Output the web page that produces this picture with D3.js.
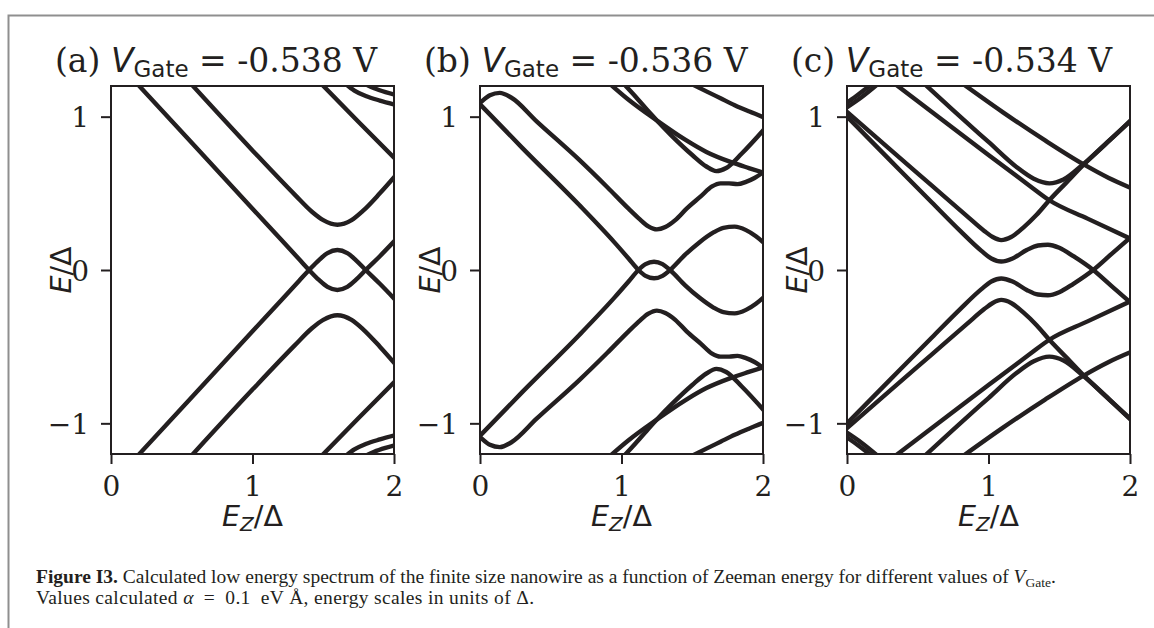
<!DOCTYPE html>
<html><head><meta charset="utf-8">
<script src="https://cdn.jsdelivr.net/npm/d3@7"></script>
<style>body{margin:0;background:#fff}svg{display:block}</style>
</head><body>
<svg id="fig" width="1154" height="628"></svg>
<script>
// ---------------- data (Ez/Δ, E/Δ) ----------------
const panelIds = ["(a)", "(b)", "(c)"];
const gateVoltages = ["-0.538", "-0.536", "-0.534"];
const xTickValues = [0, 1, 2];
const xTickLabels = ["0", "1", "2"];
const yTickValues = [-1, 0, 1];
const yTickLabels = ["\u22121", "0", "1"];
const xDomain = [0, 2];
const yDomain = [-1.2, 1.2];

// panel (a)  V_Gate = -0.538 V
const a1 = [[0.18,1.22],[0.6,0.8],[1.0,0.4],[1.2,0.2],[1.33,0.07],[1.4,0.0],[1.47,-0.065],[1.53,-0.11],[1.6,-0.13],[1.67,-0.11],[1.73,-0.065],[1.8,0.0],[1.9,0.09],[2.02,0.205]];
const a2 = [[0.18,-1.22],[0.6,-0.8],[1.0,-0.4],[1.2,-0.2],[1.33,-0.07],[1.4,0.0],[1.47,0.065],[1.53,0.11],[1.6,0.13],[1.67,0.11],[1.73,0.065],[1.8,0.0],[1.9,-0.09],[2.02,-0.205]];
const a3 = [[0.56,1.22],[1.0,0.78],[1.3,0.49],[1.42,0.38],[1.5,0.325],[1.6,0.295],[1.7,0.325],[1.78,0.385],[1.9,0.5],[2.02,0.625]];
const a4 = [[0.56,-1.22],[1.0,-0.78],[1.3,-0.49],[1.42,-0.38],[1.5,-0.325],[1.6,-0.295],[1.7,-0.325],[1.78,-0.385],[1.9,-0.5],[2.02,-0.625]];
const a5 = [[1.48,1.22],[1.75,0.965],[2.02,0.715]];
const a6 = [[1.48,-1.22],[1.75,-0.965],[2.02,-0.715]];
const a7 = [[1.65,1.22],[1.72,1.17],[1.8,1.135],[1.9,1.105],[2.02,1.075]];
const a8 = [[1.78,1.22],[1.86,1.185],[1.94,1.16],[2.02,1.14]];
const a9 = [[1.65,-1.22],[1.72,-1.17],[1.8,-1.135],[1.9,-1.105],[2.02,-1.075]];
const a10 = [[1.78,-1.22],[1.86,-1.185],[1.94,-1.16],[2.02,-1.14]];

// panel (b)  V_Gate = -0.536 V
const b1 = [[-0.02,1.075],[0.0,1.09],[0.07,1.14],[0.14,1.155],[0.22,1.125],[0.4,0.97],[0.7,0.72],[0.9,0.54],[1.05,0.4],[1.13,0.33],[1.19,0.285],[1.25,0.265],[1.31,0.28],[1.38,0.325],[1.46,0.4],[1.56,0.48],[1.64,0.545],[1.7,0.565],[1.76,0.565],[1.82,0.56],[1.88,0.575],[1.94,0.6],[2.02,0.65]];
const b2 = [[-0.02,1.1],[0.3,0.795],[0.7,0.425],[0.95,0.18],[1.05,0.075],[1.12,0.0],[1.17,-0.038],[1.23,-0.054],[1.29,-0.038],[1.343,0.0],[1.45,0.1],[1.55,0.18],[1.65,0.245],[1.72,0.275],[1.8,0.283],[1.88,0.26],[1.95,0.22],[2.02,0.165]];
const b3 = [[0.91,1.22],[1.05,1.11],[1.25,0.975],[1.45,0.85],[1.6,0.77],[1.77,0.705],[1.9,0.665],[2.02,0.63]];
const b4 = [[1.01,1.22],[1.1,1.13],[1.2,1.025],[1.25,0.975],[1.35,0.88],[1.5,0.75],[1.6,0.675],[1.67,0.645],[1.74,0.665],[1.85,0.76],[2.02,0.93]];
const b5 = [[1.48,1.22],[1.6,1.165],[1.7,1.12],[1.8,1.075],[1.9,1.035],[2.02,0.99]];
const b6 = [[-0.02,-1.075],[0.0,-1.09],[0.07,-1.14],[0.14,-1.155],[0.22,-1.125],[0.4,-0.97],[0.7,-0.72],[0.9,-0.54],[1.05,-0.4],[1.13,-0.33],[1.19,-0.285],[1.25,-0.265],[1.31,-0.28],[1.38,-0.325],[1.46,-0.4],[1.56,-0.48],[1.64,-0.545],[1.7,-0.565],[1.76,-0.565],[1.82,-0.56],[1.88,-0.575],[1.94,-0.6],[2.02,-0.65]];
const b7 = [[-0.02,-1.1],[0.3,-0.795],[0.7,-0.425],[0.95,-0.18],[1.05,-0.075],[1.12,0.0],[1.17,0.038],[1.23,0.054],[1.29,0.038],[1.343,0.0],[1.45,-0.1],[1.55,-0.18],[1.65,-0.245],[1.72,-0.275],[1.8,-0.283],[1.88,-0.26],[1.95,-0.22],[2.02,-0.165]];
const b8 = [[0.91,-1.22],[1.05,-1.11],[1.25,-0.975],[1.45,-0.85],[1.6,-0.77],[1.77,-0.705],[1.9,-0.665],[2.02,-0.63]];
const b9 = [[1.01,-1.22],[1.1,-1.13],[1.2,-1.025],[1.25,-0.975],[1.35,-0.88],[1.5,-0.75],[1.6,-0.675],[1.67,-0.645],[1.74,-0.665],[1.85,-0.76],[2.02,-0.93]];
const b10 = [[1.48,-1.22],[1.6,-1.165],[1.7,-1.12],[1.8,-1.075],[1.9,-1.035],[2.02,-0.99]];

// panel (c)  V_Gate = -0.534 V
const c1 = [[-0.01,1.04],[0.3,0.79],[0.6,0.55],[0.85,0.35],[0.97,0.255],[1.03,0.215],[1.09,0.195],[1.16,0.215],[1.25,0.28],[1.34,0.36],[1.43,0.455],[1.55,0.57],[1.67,0.685],[1.8,0.8],[1.9,0.885],[2.02,0.985]];
const c2 = [[-0.01,1.01],[0.3,0.72],[0.6,0.44],[0.8,0.255],[0.95,0.125],[1.02,0.075],[1.09,0.055],[1.17,0.075],[1.27,0.13],[1.35,0.16],[1.42,0.165],[1.5,0.145],[1.6,0.09],[1.74,0.0],[1.87,-0.105],[2.02,-0.225]];
const c3 = [[0.33,1.22],[0.7,0.96],[1.0,0.75],[1.29,0.55],[1.43,0.455],[1.7,0.335],[2.02,0.197]];
const c4 = [[0.54,1.22],[0.8,1.0],[1.0,0.835],[1.2,0.67],[1.32,0.595],[1.43,0.565],[1.53,0.59],[1.67,0.69],[1.85,0.84],[2.02,0.99]];
const c5 = [[0.81,1.22],[1.1,1.03],[1.4,0.845],[1.67,0.69],[1.85,0.6],[2.02,0.53]];
const c6 = [[-0.01,1.085],[0.08,1.145],[0.2,1.23]];
const c7 = [[-0.01,1.055],[0.1,1.125],[0.24,1.23]];
const c8 = [[-0.01,-1.04],[0.3,-0.79],[0.6,-0.55],[0.85,-0.35],[0.97,-0.255],[1.03,-0.215],[1.09,-0.195],[1.16,-0.215],[1.25,-0.28],[1.34,-0.36],[1.43,-0.455],[1.55,-0.57],[1.67,-0.685],[1.8,-0.8],[1.9,-0.885],[2.02,-0.985]];
const c9 = [[-0.01,-1.01],[0.3,-0.72],[0.6,-0.44],[0.8,-0.255],[0.95,-0.125],[1.02,-0.075],[1.09,-0.055],[1.17,-0.075],[1.27,-0.13],[1.35,-0.16],[1.42,-0.165],[1.5,-0.145],[1.6,-0.09],[1.74,0.0],[1.87,0.105],[2.02,0.225]];
const c10 = [[0.33,-1.22],[0.7,-0.96],[1.0,-0.75],[1.29,-0.55],[1.43,-0.455],[1.7,-0.335],[2.02,-0.197]];
const c11 = [[0.54,-1.22],[0.8,-1.0],[1.0,-0.835],[1.2,-0.67],[1.32,-0.595],[1.43,-0.565],[1.53,-0.59],[1.67,-0.69],[1.85,-0.84],[2.02,-0.99]];
const c12 = [[0.81,-1.22],[1.1,-1.03],[1.4,-0.845],[1.67,-0.69],[1.85,-0.6],[2.02,-0.53]];
const c13 = [[-0.01,-1.085],[0.08,-1.145],[0.2,-1.23]];
const c14 = [[-0.01,-1.055],[0.1,-1.125],[0.24,-1.23]];

const panelCurves = [
  [a1,a2,a3,a4,a5,a6,a7,a8,a9,a10],
  [b1,b2,b3,b4,b5,b6,b7,b8,b9,b10],
  [c1,c2,c3,c4,c5,c6,c7,c8,c9,c10,c11,c12,c13,c14]
];

// ---------------- layout / style ----------------
const ink = "#231f20";
const panelLefts = [111, 480, 847];
const plotW = 283, plotTop = 86, plotBottom = 454;
const svg = d3.select("#fig");

// figure frame
svg.append("path").attr("d", "M8.5,628V15.5H1154")
  .attr("fill", "none").attr("stroke", "#8f8f8f").attr("stroke-width", 2);

panelCurves.forEach((curves, i) => {
  const L = panelLefts[i];
  const x = d3.scaleLinear().domain(xDomain).range([L, L + plotW]);
  const y = d3.scaleLinear().domain(yDomain).range([plotBottom, plotTop]);
  const clipId = "clip" + i;
  svg.append("clipPath").attr("id", clipId).append("rect")
    .attr("x", x(xDomain[0])).attr("y", y(yDomain[1]))
    .attr("width", x(xDomain[1]) - x(xDomain[0])).attr("height", y(yDomain[0]) - y(yDomain[1]));

  const line = d3.line().x(d => x(d[0])).y(d => y(d[1])).curve(d3.curveMonotoneX);
  svg.append("g").attr("clip-path", `url(#${clipId})`)
    .selectAll("path").data(curves).join("path")
    .attr("d", line).attr("fill", "none").attr("stroke", ink)
    .attr("stroke-width", 4.4).attr("stroke-linejoin", "round");

  // spines
  svg.append("rect").attr("x", x(xDomain[0])).attr("y", y(yDomain[1]))
    .attr("width", x(xDomain[1]) - x(xDomain[0])).attr("height", y(yDomain[0]) - y(yDomain[1]))
    .attr("fill", "none").attr("stroke", ink).attr("stroke-width", 2);

  const gx = svg.append("g").attr("transform", `translate(0,${plotBottom})`)
    .call(d3.axisBottom(x).tickValues(xTickValues).tickFormat((d, k) => xTickLabels[k]).tickSize(10).tickPadding(12));
  const gy = svg.append("g").attr("transform", `translate(${L},0)`)
    .call(d3.axisLeft(y).tickValues(yTickValues).tickFormat((d, k) => yTickLabels[k]).tickSize(10).tickPadding(12));
  [gx, gy].forEach(g => {
    g.select(".domain").remove();
    g.selectAll(".tick line").attr("stroke", ink).attr("stroke-width", 2);
    g.selectAll(".tick text").attr("fill", ink)
      .style("font-family", "'DejaVu Serif'").style("font-size", "28px");
  });
  gy.selectAll(".tick text").attr("dy", "0.36em");

  // title
  const t = svg.append("text").attr("x", L - 56).attr("y", 72)
    .attr("fill", ink).style("font-family", "'DejaVu Serif'").style("font-size", "33px");
  t.append("tspan").text(panelIds[i] + " ");
  t.append("tspan").style("font-family", "'DejaVu Sans'").style("font-style", "italic").text("V");
  t.append("tspan").style("font-family", "'DejaVu Sans'").style("font-size", "23px").attr("dy", 5).text("Gate");
  t.append("tspan").attr("dy", -5).text(" = " + gateVoltages[i] + " V");

  // y label
  const yl = svg.append("text").attr("transform", `translate(${L - 40},270) rotate(-90)`)
    .attr("text-anchor", "middle").attr("fill", ink)
    .style("font-family", "'DejaVu Sans'").style("font-size", "28.5px");
  yl.append("tspan").style("font-style", "italic").text("E");
  yl.append("tspan").text("/\u0394");

  // x label
  const xl = svg.append("text").attr("x", (x(xDomain[0]) + x(xDomain[1])) / 2).attr("y", 526)
    .attr("text-anchor", "middle").attr("fill", ink)
    .style("font-family", "'DejaVu Sans'").style("font-size", "28.5px");
  xl.append("tspan").style("font-style", "italic").text("E");
  xl.append("tspan").style("font-style", "italic").style("font-size", "20px").attr("dy", 5).text("Z");
  xl.append("tspan").attr("dy", -5).text("/\u0394");
});

// caption
const cap1 = svg.append("text").attr("x", 36).attr("y", 583).attr("fill", ink)
  .style("font-family", "'Liberation Serif'").style("font-size", "19.5px");
cap1.append("tspan").style("font-weight", "bold").text("Figure I3.");
cap1.append("tspan").text(" Calculated low energy spectrum of the finite size nanowire as a function of Zeeman energy for different values of ");
cap1.append("tspan").style("font-style", "italic").text("V");
cap1.append("tspan").style("font-size", "13.5px").attr("dy", 3.5).text("Gate");
cap1.append("tspan").attr("dy", -3.5).text(".");

const cap2 = svg.append("text").attr("x", 36).attr("y", 604).attr("fill", ink)
  .attr("textLength", 498).attr("lengthAdjust", "spacing")
  .style("font-family", "'Liberation Serif'").style("font-size", "19.5px");
cap2.append("tspan").text("Values calculated ");
cap2.append("tspan").style("font-style", "italic").text("\u03b1");
cap2.append("tspan").text("\u2002=\u20020.1\u2002eV \u00c5, energy scales in units of \u0394.");
</script>
</body></html>
